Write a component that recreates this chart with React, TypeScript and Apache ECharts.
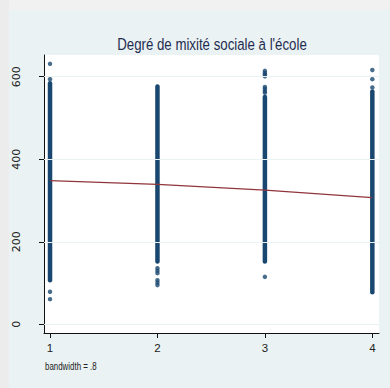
import React, { useEffect, useRef } from "react";
import * as echarts from "echarts";

// ---- data ----
const categories = [1, 2, 3, 4];
const bandLow = [107, 152, 152, 78];
const bandHigh = [584, 576, 551, 564];
const extra1 = [631, 594, 79, 61];
const extra2 = [136, 130, 124, 107, 101, 95];
const extra3 = [614, 609, 605, 601, 575, 570, 565, 561, 115];
const extra4 = [616, 594, 574];
const lowessFit = [348, 339, 325, 307];
const yTicks = [0, 200, 400, 600];
const xTicks = [1, 2, 3, 4];
const titleText = "Degré de mixité sociale à l'école";
const noteText = "bandwidth = .8";

const NAVY = "#1A476F";
const MAROON = "#90353B";
const BG = "#EAF2F3";

export default function App() {
  const ref = useRef<HTMLDivElement>(null);
  useEffect(() => {
    document.body.style.margin = "0";
    const chart = echarts.init(ref.current!, null, { renderer: "svg" });
    const bandData = categories.map((c, i) => [c, bandLow[i], bandHigh[i]]);
    const extras = [extra1, extra2, extra3, extra4];
    const pointData: number[][] = [];
    extras.forEach((arr, i) => arr.forEach((v) => pointData.push([categories[i], v])));
    const lineData = categories.map((c, i) => [c, lowessFit[i]]);

    chart.setOption({
      animation: false,
      backgroundColor: BG,
      grid: {
        left: 44,
        right: 11,
        top: 55,
        bottom: 55,
        show: true,
        backgroundColor: "#ffffff",
        borderWidth: 0,
      },
      graphic: [
        { type: "rect", shape: { x: 0, y: 0, width: 390, height: 10 }, style: { fill: "#f1f1f1" } },
        { type: "rect", shape: { x: 0, y: 0, width: 9, height: 388 }, style: { fill: "#ececec" } },
        {
          type: "text",
          x: 212,
          y: 44,
          scaleX: 0.78,
          style: {
            text: titleText,
            fontSize: 17,
            fontFamily: "Liberation Sans, Arial, sans-serif",
            fill: "#1f2d50",
            align: "center",
            verticalAlign: "middle",
          },
        },
        {
          type: "text",
          x: 45,
          y: 366,
          scaleX: 0.72,
          style: {
            text: noteText,
            fontSize: 11,
            fontFamily: "Liberation Sans, Arial, sans-serif",
            fill: "#222222",
            align: "left",
            verticalAlign: "middle",
          },
        },
      ],
      xAxis: {
        type: "value",
        min: 0.944,
        max: 4.062,
        axisLine: { show: true, onZero: false, lineStyle: { color: "#111111", width: 1 } },
        axisTick: { show: true, length: 5, customValues: xTicks, lineStyle: { color: "#111111" } },
        axisLabel: {
          customValues: xTicks,
          margin: 9,
          fontSize: 11.5,
          fontFamily: "Liberation Sans, Arial, sans-serif",
          color: "#222222",
        },
        splitLine: { show: false },
      },
      yAxis: {
        type: "value",
        min: -21,
        max: 652.5,
        axisLine: { show: true, onZero: false, lineStyle: { color: "#111111", width: 1 } },
        axisTick: { show: true, length: 5, customValues: yTicks, lineStyle: { color: "#111111" } },
        axisLabel: {
          customValues: yTicks,
          rotate: 90,
          margin: 22,
          fontSize: 11,
          fontFamily: "DejaVu Sans, sans-serif",
          color: "#222222",
        },
        splitLine: { show: false },
      },
      series: [
        {
          type: "line",
          data: [],
          z: 1,
          silent: true,
          markLine: {
            silent: true,
            symbol: "none",
            label: { show: false },
            lineStyle: { color: BG, width: 1, type: "solid" },
            data: yTicks.map((v) => ({ yAxis: v })),
          },
        },
        {
          type: "custom",
          z: 2,
          data: bandData,
          encode: { x: 0, y: [1, 2] },
          renderItem: (params: any, api: any) => {
            const x = api.value(0);
            const p1 = api.coord([x, api.value(2)]);
            const p2 = api.coord([x, api.value(1)]);
            const w = 4.5;
            return {
              type: "rect",
              shape: { x: p1[0] - w / 2, y: p1[1] - w / 2, width: w, height: p2[1] - p1[1] + w, r: w / 2 },
              style: { fill: NAVY },
            };
          },
        },
        {
          type: "scatter",
          z: 2,
          data: pointData,
          symbol: "circle",
          symbolSize: 4.5,
          itemStyle: { color: NAVY },
        },
        {
          type: "line",
          z: 3,
          data: lineData,
          symbol: "none",
          lineStyle: { color: MAROON, width: 1.3 },
        },
      ],
    });
    return () => chart.dispose();
  }, []);
  return <div ref={ref} style={{ width: 390, height: 388 }} />;
}
